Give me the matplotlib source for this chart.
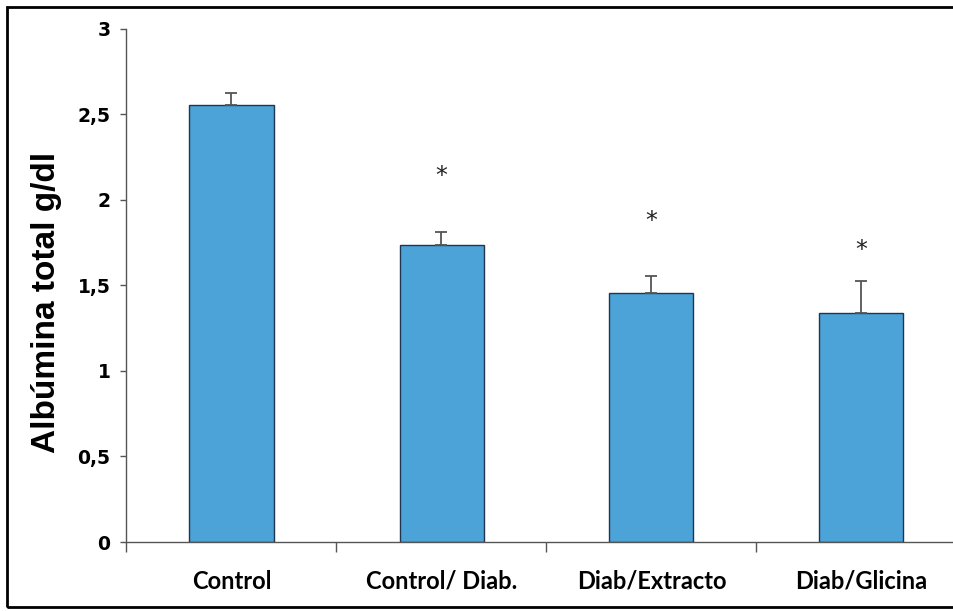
import matplotlib
matplotlib.use("Agg")
import matplotlib.pyplot as plt
from matplotlib.ticker import FuncFormatter, FixedLocator
from matplotlib.patches import Rectangle
from matplotlib.transforms import offset_copy

categories = ["Control", "Control/ Diab.", "Diab/Extracto", "Diab/Glicina"]
values = [2.554, 1.735, 1.453, 1.339]
errors = [0.070, 0.076, 0.102, 0.186]
star_y = [None, 2.163, 1.897, 1.729]
yticks = [0, 0.5, 1, 1.5, 2, 2.5, 3]
ylabel = "Albúmina total g/dl"

fig = plt.figure(figsize=(9.54, 6.11), dpi=100)
ax = fig.add_axes([126.5 / 954, 69 / 611, 840 / 954, (542 - 28.5) / 611])

x = list(range(len(categories)))
ax.bar(x, values, width=0.4, color="#4ba3d8", edgecolor="#1f3550", linewidth=1.0, zorder=2)
ax.errorbar(x, values, yerr=[[0] * len(errors), errors], fmt="none",
            ecolor="#555555", elinewidth=1.3, capsize=4.3, capthick=1.3, zorder=3)
star_tr = offset_copy(ax.transData, fig=fig, x=0, y=-4, units="dots")
for xi, sy in zip(x, star_y):
    if sy is not None:
        ax.text(xi, sy, "*", ha="center", va="center", fontsize=17, color="#222222",
                family="DejaVu Sans", transform=star_tr)

ax.set_xlim(-0.5, len(categories) - 0.5)
ax.set_ylim(0, 3)
ax.set_yticks(yticks)
ax.yaxis.set_major_formatter(FuncFormatter(lambda v, p: ("%g" % v).replace(".", ",")))
ax.set_xticks(x)
ax.set_xticklabels(categories, fontsize=17, fontweight="bold", family="Lato")
ax.xaxis.set_minor_locator(FixedLocator([i - 0.5 for i in range(len(categories) + 1)]))
ax.tick_params(axis="x", which="major", length=0, pad=20)
ax.tick_params(axis="x", which="minor", length=7, width=1, color="#555555", direction="out")
ax.tick_params(axis="y", length=4.5, width=1, color="#555555", direction="out", pad=7,
               labelsize=13.5)
for lab in ax.get_yticklabels():
    lab.set_fontweight("bold")
    lab.set_family("DejaVu Sans")

for s in ["top", "right"]:
    ax.spines[s].set_visible(False)
for s in ["left", "bottom"]:
    ax.spines[s].set_color("#555555")
    ax.spines[s].set_linewidth(1.0)

fig.text(47 / 954, 1 - 302 / 611, ylabel, rotation=90, ha="center", va="center",
         fontsize=24, fontweight="bold", family="Liberation Sans")

fig.patches.append(Rectangle((7 / 954, 4 / 611), 1.2, 1 - 11 / 611, transform=fig.transFigure,
                             fill=False, edgecolor="black", linewidth=2.0, zorder=10))

fig.savefig("out.png", dpi=100)
